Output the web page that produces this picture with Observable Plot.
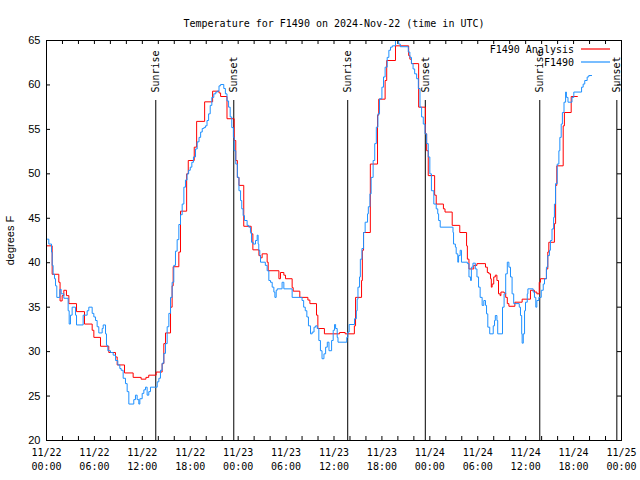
<!DOCTYPE html>
<html><head><meta charset="utf-8">
<script src="https://cdn.jsdelivr.net/npm/d3@7"></script>
<script src="https://cdn.jsdelivr.net/npm/@observablehq/plot@0.6"></script>
<style>body{margin:0;background:#fff}</style>
</head><body><div id="chart"></div>
<script>
const chartTitle = "Temperature for F1490 on 2024-Nov-22 (time in UTC)";
const yLabel = "degrees F";
const startTime = "2024-11-22T00:00:00Z";
const spanHours = 72;
const seriesNames = ["F1490 Analysis", "F1490"];
const seriesColors = ["#ff0000", "#1e90ff"];

// Analysis (red) step points: hours since start, degrees F
const anaHours = [0,0.71,1.54,1.7,1.96,2.17,2.5,2.8,3.76,4.76,5.72,5.93,6.76,7.8,8.64,8.85,9.77,10.85,11.85,12.45,12.8,13.73,14.48,14.69,14.9,15.53,15.73,15.86,16.57,16.78,17.55,17.75,18.5,18.8,19.8,20.8,21.6,21.8,22.6,23.5,23.7,23.9,24.1,24.7,25.63,25.84,26.6,26.8,27.0,27.63,27.76,29.1,29.3,29.72,29.93,30.76,30.89,31.72,32.73,32.98,33.81,33.98,34.8,36.7,37.4,38.55,38.7,39.45,39.55,39.7,40.55,41.45,41.6,42.4,42.6,43.7,45.35,45.5,45.7,46.6,47.45,47.6,47.8,48.6,48.8,49.7,49.9,50.8,51.75,52.6,52.7,52.9,53.5,53.9,54.97,55.2,55.4,55.6,55.7,55.8,56.0,56.2,56.4,56.6,56.8,56.9,57.3,57.5,57.7,57.9,58.65,59.56,60.6,61.1,61.4,61.7,61.85,62.6,62.77,62.9,63.6,63.75,63.9,64.7,64.85,65.7,66.5];
const anaTemps = [41.9,38.7,37.8,35.7,36.3,36.9,36.3,35.4,34.5,33.1,32.4,31.6,30.6,29.9,29.4,28.5,27.6,27.1,26.9,27.1,27.35,27.7,28.65,30.9,32.1,35.0,37.4,39.55,41.2,45.8,50.0,51.5,53.0,55.9,58.1,59.3,59.1,58.7,56.2,53.75,51.5,49.6,48.7,44.1,43.25,41.45,40.8,40.55,41.0,40.06,39.1,38.2,38.9,38.6,38.2,37.2,36.8,36.1,35.8,35.4,34.1,32.6,32.0,32.15,32.0,32.9,36.1,38.0,41.4,43.4,51.1,56.6,58.4,60.5,62.75,64.4,63.3,62.9,62.4,57.5,54.5,52.6,49.8,47.6,46.6,46.06,45.7,44.2,43.4,41.9,40.4,39.3,39.7,39.9,39.5,38.9,38.75,38.2,37.25,37.6,38.4,38.6,38.0,36.5,36.3,36.7,36.6,36.1,35.4,35.1,35.56,35.9,36.9,36.7,36.5,37.8,38.2,39.3,41.2,42.3,44.4,48.7,50.9,55.4,56.9,58.7,58.7];

// Observations (blue) step points
const obsHours = [0,0.29,0.63,0.71,0.83,1.0,1.13,1.29,1.67,1.84,2.17,2.71,2.84,3.0,3.21,3.63,3.76,4.59,5.09,5.3,5.72,5.93,6.14,6.34,6.55,6.97,7.1,7.39,7.51,7.68,8.01,8.35,8.64,8.93,9.18,9.35,9.6,9.89,10.1,10.31,10.93,11.14,11.35,11.56,11.69,11.98,12.19,12.4,12.6,12.81,13.02,13.86,14.07,14.27,14.48,14.69,14.9,15.11,15.32,15.53,15.73,15.94,16.15,16.36,16.57,16.78,16.99,17.2,17.4,17.6,17.8,18.0,18.2,18.4,18.66,18.87,19.1,19.3,19.5,19.7,19.9,20.1,20.3,20.5,20.7,20.95,21.2,21.4,21.6,21.8,22.2,22.4,22.6,22.8,23.0,23.2,23.4,23.5,23.7,23.9,24.1,24.3,24.45,24.62,24.79,25.12,25.33,25.54,25.67,25.88,26.17,26.38,26.5,26.58,26.71,26.8,27.4,27.63,27.84,28.05,28.26,28.47,28.6,28.76,28.89,29.5,29.72,30.76,32.0,32.2,32.4,32.6,32.8,33.06,33.27,33.5,33.7,33.9,34.1,34.3,34.5,34.74,34.95,35.16,35.37,35.7,35.9,36.07,36.2,36.4,36.5,37.6,37.73,37.9,38.57,38.8,38.9,39.0,39.2,39.3,39.5,39.7,39.9,40.2,40.3,40.5,40.65,40.9,41.1,41.3,41.5,41.7,42.0,42.2,42.4,42.66,42.87,43.08,43.3,43.7,44.1,44.3,45.3,45.5,45.7,45.9,46.1,46.35,46.56,46.77,46.97,47.18,47.4,47.6,47.8,48.0,48.2,48.5,48.8,48.99,49.1,49.3,50.9,50.97,51.2,51.3,51.5,51.6,51.8,51.96,52.7,52.9,53.1,53.2,53.4,53.7,53.9,54.1,54.3,54.55,54.76,54.97,55.1,55.26,55.5,55.94,56.1,56.2,56.4,56.5,57.1,57.3,57.5,57.7,57.9,58.1,58.3,58.5,59.2,59.35,59.5,59.56,59.7,59.86,59.98,60.2,60.28,60.94,61.1,61.27,61.4,61.65,61.95,62.2,62.36,62.6,62.77,62.98,63.1,63.3,63.5,63.6,63.74,63.95,64.16,64.28,64.45,64.6,64.8,65.0,65.1,65.3,65.8,66.03,67.0,67.2,67.4,67.7,67.9,68.3];
const obsTemps = [42.65,42.1,41.2,39.7,38.7,38.2,37.4,36.1,37.0,36.5,36.0,34.6,33.1,34.1,35.0,34.1,33.0,34.1,34.6,35.0,34.3,33.9,33.5,32.8,32.1,32.6,33.0,32.0,30.7,30.1,29.9,29.6,29.0,28.5,28.1,27.9,27.0,26.4,25.5,24.1,24.6,25.1,24.6,24.1,24.7,25.3,25.7,26.0,25.1,25.5,26.0,26.6,27.0,27.9,28.7,29.8,30.9,32.8,34.3,36.1,37.8,39.7,41.3,42.6,44.3,45.4,46.6,48.5,49.3,50.0,50.4,50.75,51.3,51.9,52.8,53.6,54.1,54.7,55.1,55.2,55.4,56.0,56.75,57.7,58.6,59.0,59.2,59.3,59.9,60.05,59.6,59.0,58.2,57.5,56.4,55.2,54.1,52.6,51.1,49.6,48.1,47.0,46.06,45.3,44.75,44.2,44.0,43.4,42.3,42.1,42.5,43.1,42.1,41.4,40.8,40.06,39.7,39.1,38.0,37.8,37.25,36.7,36.1,36.9,37.06,37.8,37.06,36.1,35.75,35.0,34.6,33.9,32.9,32.0,32.2,32.75,32.9,32.6,31.25,30.1,29.2,29.75,30.5,31.06,30.1,31.25,32.4,33.05,32.6,31.6,31.06,31.6,32.2,33.05,33.7,34.6,35.9,37.25,38.4,40.4,41.6,43.4,44.56,45.5,46.3,47.75,49.6,51.5,53.4,55.25,56.75,58.44,59.75,60.9,62.0,63.1,63.9,64.25,64.4,65.0,64.6,64.3,63.7,63.1,62.4,61.8,61.25,60.7,59.6,57.5,56.4,55.6,54.5,53.4,51.9,50.0,48.1,46.6,46.06,45.5,44.75,44.0,43.4,42.1,41.75,41.0,40.06,40.8,41.4,40.06,39.9,38.4,38.0,39.5,39.95,39.3,38.4,37.25,36.1,35.2,35.75,35.2,34.25,32.75,32.0,32.9,33.5,34.06,33.5,32.0,35.0,36.5,38.75,40.06,39.5,38.4,36.5,35.4,35.0,34.06,32.0,30.95,32.0,34.6,35.56,36.5,37.06,36.7,36.1,35.0,35.75,36.1,36.9,37.6,38.2,39.5,40.8,41.4,42.5,43.8,45.1,46.6,48.9,51.1,52.6,54.1,55.6,56.9,58.06,59.2,58.6,58.06,58.6,59.2,59.75,60.1,60.5,60.9,61.06,61.06];

const sunNames = ["Sunrise","Sunset","Sunrise","Sunset","Sunrise","Sunset"];
const sunTimes = ["2024-11-22T13:41Z","2024-11-22T23:27Z","2024-11-23T13:43Z","2024-11-23T23:26Z","2024-11-24T13:46Z","2024-11-24T23:25Z"];
const yTicks = [20,25,30,35,40,45,50,55,60,65];

const t0 = new Date(startTime);
const toDate = h => new Date(+t0 + h * 3600e3);
const ana = anaHours.map((h, i) => ({t: toDate(h), v: anaTemps[i]}));
const obs = obsHours.map((h, i) => ({t: toDate(h), v: obsTemps[i]}));
const sun = sunTimes.map((s, i) => ({t: new Date(s), name: sunNames[i]}));
const tEnd = toDate(spanHours);
const majorTicks = d3.utcHour.every(6).range(t0, new Date(+tEnd + 1));
const minorTicks = d3.utcHour.every(2).range(t0, new Date(+tEnd + 1));

const mono = "DejaVu Sans Mono";
const sans = "Liberation Sans";
const W = 640, H = 480, mL = 46, mR = 19, mT = 40, mB = 40;
const pw = W - mL - mR, ph = H - mT - mB, tk = 4;

const chart = Plot.plot({
  width: W, height: H,
  marginLeft: mL, marginRight: mR, marginTop: mT, marginBottom: mB,
  style: {fontFamily: mono, fontSize: "10px", background: "#fff", color: "#000", overflow: "visible"},
  x: {type: "utc", domain: [t0, tEnd]},
  y: {domain: [20, 65]},
  marks: [
    Plot.ruleX(minorTicks, {insetTop: ph - tk, stroke: "#000"}),
    Plot.ruleX(minorTicks, {insetBottom: ph - tk, stroke: "#000"}),
    Plot.ruleY(yTicks, {insetRight: pw - tk, stroke: "#000"}),
    Plot.ruleY(yTicks, {insetLeft: pw - tk, stroke: "#000"}),
    Plot.axisX(majorTicks, {tickSize: 0, tickPadding: 8, tickFormat: d3.utcFormat("%m/%d"), label: null, fontFamily: mono, fontSize: 10}),
    Plot.axisX(majorTicks, {tickSize: 0, tickPadding: 22, tickFormat: d3.utcFormat("%H:%M"), label: null, fontFamily: mono, fontSize: 10}),
    Plot.axisY(yTicks, {tickSize: 0, tickPadding: 6, fontFamily: sans, fontSize: 11, label: yLabel, labelAnchor: "center", labelArrow: "none", labelOffset: 40}),
    Plot.ruleX(sun, {x: "t", insetTop: 60, stroke: "#000"}),
    Plot.text(sun, {x: "t", text: "name", frameAnchor: "top", dy: 52, rotate: -90, textAnchor: "start", lineAnchor: "middle", fontFamily: mono, fontSize: 10, fill: "#000"}),
    Plot.lineY(ana, {x: "t", y: "v", stroke: seriesColors[0], curve: "step-after", strokeWidth: 1, clip: true}),
    Plot.lineY(obs, {x: "t", y: "v", stroke: seriesColors[1], curve: "step-after", strokeWidth: 1, clip: true}),
    Plot.frame({stroke: "#000"}),
    Plot.text([chartTitle], {frameAnchor: "top", dy: -21, fontFamily: mono, fontSize: 10, fill: "#000"})
  ]
});

// legend (top-right, inside frame)
const svg = d3.select(chart);
seriesNames.forEach((name, i) => {
  const y = 49 + i * 13;
  svg.append("text").attr("x", 574).attr("y", y).attr("dy", "0.35em")
    .attr("text-anchor", "end").attr("font-family", mono).attr("font-size", 10)
    .attr("fill", "#000").text(name);
  svg.append("line").attr("x1", 581).attr("x2", 610).attr("y1", y).attr("y2", y)
    .attr("stroke", seriesColors[i]).attr("stroke-width", 1.2);
});
document.getElementById("chart").appendChild(chart);
</script>
</body></html>
